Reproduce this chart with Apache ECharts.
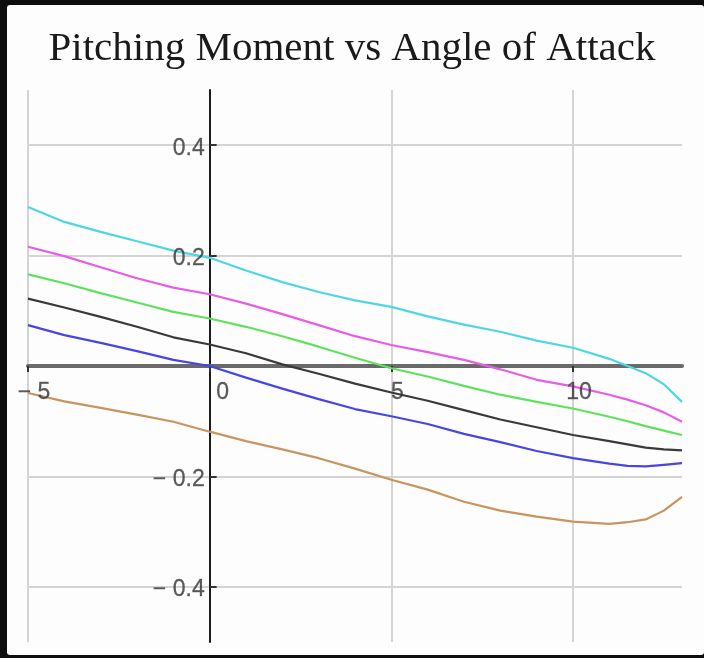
<!DOCTYPE html>
<html>
<head>
<meta charset="utf-8">
<script src="https://cdn.jsdelivr.net/npm/echarts@6/dist/echarts.min.js"></script>
<style>
  html, body { margin: 0; padding: 0; background: #0d0d0d; }
  #frame { position: absolute; left: 7px; top: 5px; width: 697px; height: 650px; background: #fdfdfd; border-radius: 3px; }
  #chart { position: absolute; left: 0; top: 0; width: 704px; height: 658px; }
</style>
</head>
<body>
<div id="frame"></div>
<div id="chart"></div>
<script>
// Angle of attack (deg)
const alpha = [-5, -4, -3, -2, -1, 0, 1, 2, 3, 4, 5, 6, 7, 8, 9, 10, 11, 11.5, 12, 12.5, 13];
// Pitching moment coefficient curves
const cmCyan    = [0.288, 0.261, 0.243, 0.226, 0.209, 0.196, 0.173, 0.152, 0.134, 0.119, 0.107, 0.090, 0.075, 0.062, 0.046, 0.033, 0.013, 0.000, -0.013, -0.033, -0.065];
const cmMagenta = [0.216, 0.199, 0.179, 0.159, 0.142, 0.130, 0.113, 0.094, 0.074, 0.054, 0.038, 0.025, 0.011, -0.006, -0.025, -0.037, -0.052, -0.061, -0.071, -0.084, -0.101];
const cmGreen   = [0.166, 0.150, 0.132, 0.115, 0.098, 0.086, 0.071, 0.054, 0.035, 0.015, -0.004, -0.019, -0.036, -0.052, -0.065, -0.077, -0.092, -0.100, -0.109, -0.117, -0.125];
const cmBlack   = [0.122, 0.106, 0.089, 0.071, 0.052, 0.039, 0.023, 0.003, -0.014, -0.032, -0.048, -0.063, -0.080, -0.097, -0.111, -0.125, -0.136, -0.142, -0.148, -0.151, -0.153];
const cmBlue    = [0.074, 0.056, 0.042, 0.027, 0.011, 0.000, -0.021, -0.041, -0.060, -0.078, -0.091, -0.105, -0.123, -0.138, -0.154, -0.167, -0.177, -0.181, -0.182, -0.179, -0.176];
const cmBrown   = [-0.049, -0.064, -0.076, -0.088, -0.101, -0.119, -0.136, -0.151, -0.167, -0.186, -0.206, -0.224, -0.246, -0.262, -0.273, -0.282, -0.286, -0.283, -0.278, -0.262, -0.237];

// Tick values
const xTicks = [-5, 0, 5, 10];
const yTicks = [-0.4, -0.2, 0.2, 0.4];

const curves = [
  { name: 'c1', data: cmCyan,    color: '#4fd6e4' },
  { name: 'c2', data: cmMagenta, color: '#e45ee6' },
  { name: 'c3', data: cmGreen,   color: '#5ee25e' },
  { name: 'c4', data: cmBlack,   color: '#3a3a3a' },
  { name: 'c5', data: cmBlue,    color: '#4646e6' },
  { name: 'c6', data: cmBrown,   color: '#c8955f' }
];

function fmtNum(v) {
  const r = Math.round(v * 10) / 10;
  if (r < 0) return '\u2212 ' + String(Math.abs(r));
  return String(r);
}

const labelFont = { fontFamily: 'Liberation Sans', fontSize: 23, color: '#333333', textBorderColor: '#555555', textBorderWidth: 0.3 };

const lineSeries = curves.map(function (c) {
  return {
    name: c.name,
    type: 'line',
    data: alpha.map(function (a, i) { return [a, c.data[i]]; }),
    showSymbol: false,
    symbol: 'none',
    smooth: false,
    lineStyle: { color: c.color, width: 2.2 },
    itemStyle: { color: c.color },
    z: 3,
    silent: true
  };
});

// Tick labels placed at the crossing axes (through the axis scales)
const yLabelSeries = {
  type: 'scatter',
  symbolSize: 0,
  silent: true,
  z: 5,
  data: yTicks.map(function (v) { return [0, v]; }),
  label: Object.assign({
    show: true,
    position: 'left',
    distance: 5,
    offset: [0, 3],
    formatter: function (p) { return fmtNum(p.value[1]); }
  }, labelFont)
};
const xLabelSeries = {
  type: 'scatter',
  symbolSize: 0,
  silent: true,
  z: 5,
  data: xTicks.map(function (v) {
    return { value: [v, 0], label: { offset: [v === 0 ? 13 : 6, 0] } };
  }),
  label: Object.assign({
    show: true,
    position: 'bottom',
    distance: 15,
    formatter: function (p) { return fmtNum(p.value[0]); }
  }, labelFont)
};

const chart = echarts.init(document.getElementById('chart'), null, { renderer: 'canvas' });
chart.setOption({
  backgroundColor: 'transparent',
  animation: false,
  title: {
    text: 'Pitching Moment vs Angle of Attack',
    left: 'center',
    top: 24,
    textStyle: { fontFamily: 'Liberation Serif', fontSize: 41, fontWeight: 'normal', color: '#1a1a1a' }
  },
  grid: { left: 28, right: 22, top: 90, bottom: 16, containLabel: false, outerBoundsMode: 'none' },
  xAxis: {
    type: 'value',
    min: -5, max: 13, interval: 5,
    axisLine: { onZero: true, lineStyle: { color: '#6a6a6a', width: 4 } },
    axisTick: { show: true, length: 6, inside: false, customValues: xTicks, lineStyle: { color: '#333', width: 2 } },
    axisLabel: { show: false },
    splitLine: { show: true, lineStyle: { color: '#d4d4d4', width: 2 } }
  },
  yAxis: {
    type: 'value',
    min: -0.5, max: 0.5,
    axisLine: { onZero: true, lineStyle: { color: '#1c1c1c', width: 2 } },
    axisTick: { show: true, length: 7, inside: true, customValues: yTicks, lineStyle: { color: '#333', width: 2 } },
    axisLabel: { show: false },
    splitLine: { show: true, lineStyle: { color: '#d4d4d4', width: 2 } }
  },
  series: lineSeries.concat([yLabelSeries, xLabelSeries])
});
</script>
</body>
</html>
